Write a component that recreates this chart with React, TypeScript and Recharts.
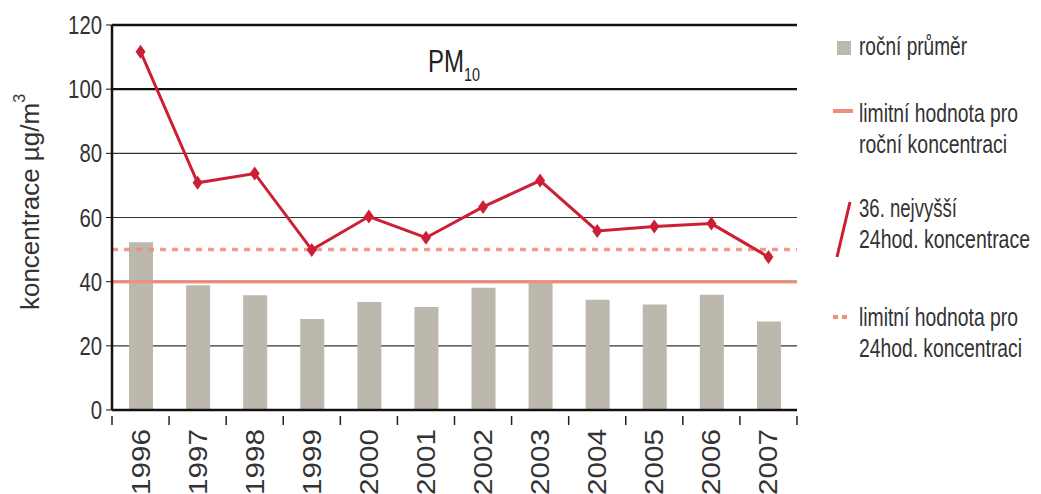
import React from 'react';
import {
  ComposedChart,
  Bar,
  Line,
  XAxis,
  YAxis,
  CartesianGrid,
  ReferenceLine,
} from 'recharts';

const years = ['1996', '1997', '1998', '1999', '2000', '2001', '2002', '2003', '2004', '2005', '2006', '2007'];
const annualMean = [52.3, 38.9, 35.8, 28.4, 33.7, 32.1, 38.1, 40.4, 34.4, 32.9, 35.9, 27.6];
const highest36 = [111.7, 70.8, 73.7, 49.9, 60.3, 53.7, 63.3, 71.5, 55.8, 57.2, 58.1, 47.7];
const yTicks = [0, 20, 40, 60, 80, 100, 120];
const annualLimit = 40;
const dailyLimit = 50;

const chartData = years.map((year, i) => ({
  year,
  mean: annualMean[i],
  high: highest36[i],
}));

const SANS = '"Liberation Sans", Arial, sans-serif';
const BAND = (797 - 112) / years.length;
const SQUEEZE = 0.75; // the original uses a condensed face

// legend rows: text, baseline, width in the original
const legendRows = [
  { text: 'roční průměr', y: 55, w: 108 },
  { text: 'limitní hodnota pro', y: 122, w: 159 },
  { text: 'roční koncentraci', y: 153, w: 148 },
  { text: '36. nejvyšší', y: 217, w: 98 },
  { text: '24hod. koncentrace', y: 248, w: 171 },
  { text: 'limitní hodnota pro', y: 326, w: 159 },
  { text: '24hod. koncentraci', y: 357, w: 163 },
];

const Diamond = (props: any) => {
  const { cx, cy } = props;
  if (cx == null || cy == null) return null;
  return (
    <polygon
      points={`${cx},${cy - 7} ${cx + 5},${cy} ${cx},${cy + 7} ${cx - 5},${cy}`}
      fill="#cc1f36"
    />
  );
};

const YearTick = (props: any) => {
  const { x, y, payload, index } = props;
  const top = y - 2;
  return (
    <g>
      <line x1={x - BAND / 2} y1={top} x2={x - BAND / 2} y2={top + 9} stroke="#222" strokeWidth={1.5} />
      {index === years.length - 1 && (
        <line x1={x + BAND / 2} y1={top} x2={x + BAND / 2} y2={top + 9} stroke="#222" strokeWidth={1.5} />
      )}
      <text
        x={x}
        y={top + 13}
        transform={`rotate(-90, ${x}, ${top + 13})`}
        textAnchor="end"
        dominantBaseline="central"
        fontFamily={SANS}
        fontSize={26}
        textLength={66}
        lengthAdjust="spacingAndGlyphs"
        fill="#333"
      >
        {payload.value}
      </text>
    </g>
  );
};

const ValueTick = (props: any) => {
  const { x, y, payload } = props;
  const label = String(payload.value);
  return (
    <text
      x={x}
      y={y}
      textAnchor="end"
      dominantBaseline="central"
      fontFamily={SANS}
      fontSize={25}
      textLength={label.length * 11.3}
      lengthAdjust="spacingAndGlyphs"
      fill="#333"
    >
      {label}
    </text>
  );
};

export default function App() {
  return (
    <div style={{ position: 'absolute', left: 0, top: 0, width: 1041, height: 494, background: '#fff' }}>
      <ComposedChart
        width={1041}
        height={494}
        data={chartData}
        margin={{ top: 25, right: 244, bottom: 0, left: 52 }}
      >
        <CartesianGrid vertical={false} stroke="#333" strokeWidth={1.2} />
        <XAxis
          dataKey="year"
          height={84}
          tickLine={false}
          axisLine={{ stroke: '#111', strokeWidth: 2.5 }}
          tick={<YearTick />}
          interval={0}
        />
        <YAxis
          width={60}
          domain={[0, 120]}
          ticks={yTicks}
          tickSize={6}
          tickMargin={4}
          tickLine={{ stroke: '#111' }}
          axisLine={{ stroke: '#111', strokeWidth: 2.5 }}
          tick={<ValueTick />}
        />
        <YAxis
          yAxisId="right"
          orientation="right"
          width={0}
          domain={[0, 120]}
          tick={false}
          tickLine={false}
          axisLine={{ stroke: '#444', strokeWidth: 1.2 }}
        />
        <ReferenceLine y={120} stroke="#111" strokeWidth={2.5} />
        <ReferenceLine y={100} stroke="#111" strokeWidth={2.2} />
        <Bar dataKey="mean" fill="#bcb8ad" barSize={24} isAnimationActive={false} />
        <ReferenceLine y={annualLimit} stroke="#ee8f7e" strokeOpacity={0.9} strokeWidth={3.5} />
        <ReferenceLine y={dailyLimit} stroke="#ee8f7e" strokeOpacity={0.9} strokeWidth={3.5} strokeDasharray="6 6" />
        <Line
          dataKey="high"
          stroke="#cc1f36"
          strokeWidth={3}
          dot={<Diamond />}
          activeDot={false}
          isAnimationActive={false}
        />
      </ComposedChart>

      <svg width={1041} height={494} style={{ position: 'absolute', left: 0, top: 0, pointerEvents: 'none' }}>
        <text
          transform={`translate(428, 72) scale(${SQUEEZE}, 1)`}
          fontFamily={SANS}
          fontSize={32}
          fill="#222"
        >
          PM
        </text>
        <text x={464} y={81} fontFamily={SANS} fontSize={19} fill="#222" textLength={16} lengthAdjust="spacingAndGlyphs">
          10
        </text>
        <text
          x={30}
          y={202}
          transform="rotate(-90, 30, 202)"
          textAnchor="middle"
          dominantBaseline="central"
          fontFamily={SANS}
          fontSize={26}
          fill="#333"
        >
          koncentrace µg/m<tspan fontSize={16} dy={-11}>3</tspan>
        </text>

        <rect x={837} y={41} width={14} height={14} fill="#bcb8ad" />
        <line x1={833} y1={111} x2={853} y2={111} stroke="#ee8f7e" strokeWidth={4} />
        <line x1={850} y1={202} x2={837} y2={257} stroke="#cc1f36" strokeWidth={3} />
        <line x1={833} y1={317} x2={849} y2={317} stroke="#ee8f7e" strokeWidth={4} strokeDasharray="5 4" />
        {legendRows.map((r, i) => (
          <text
            key={i}
            transform={`translate(859, ${r.y}) scale(${SQUEEZE}, 1)`}
            fontFamily={SANS}
            fontSize={26}
            fill="#333"
            textLength={r.w / SQUEEZE}
            lengthAdjust="spacingAndGlyphs"
          >
            {r.text}
          </text>
        ))}
      </svg>
    </div>
  );
}
